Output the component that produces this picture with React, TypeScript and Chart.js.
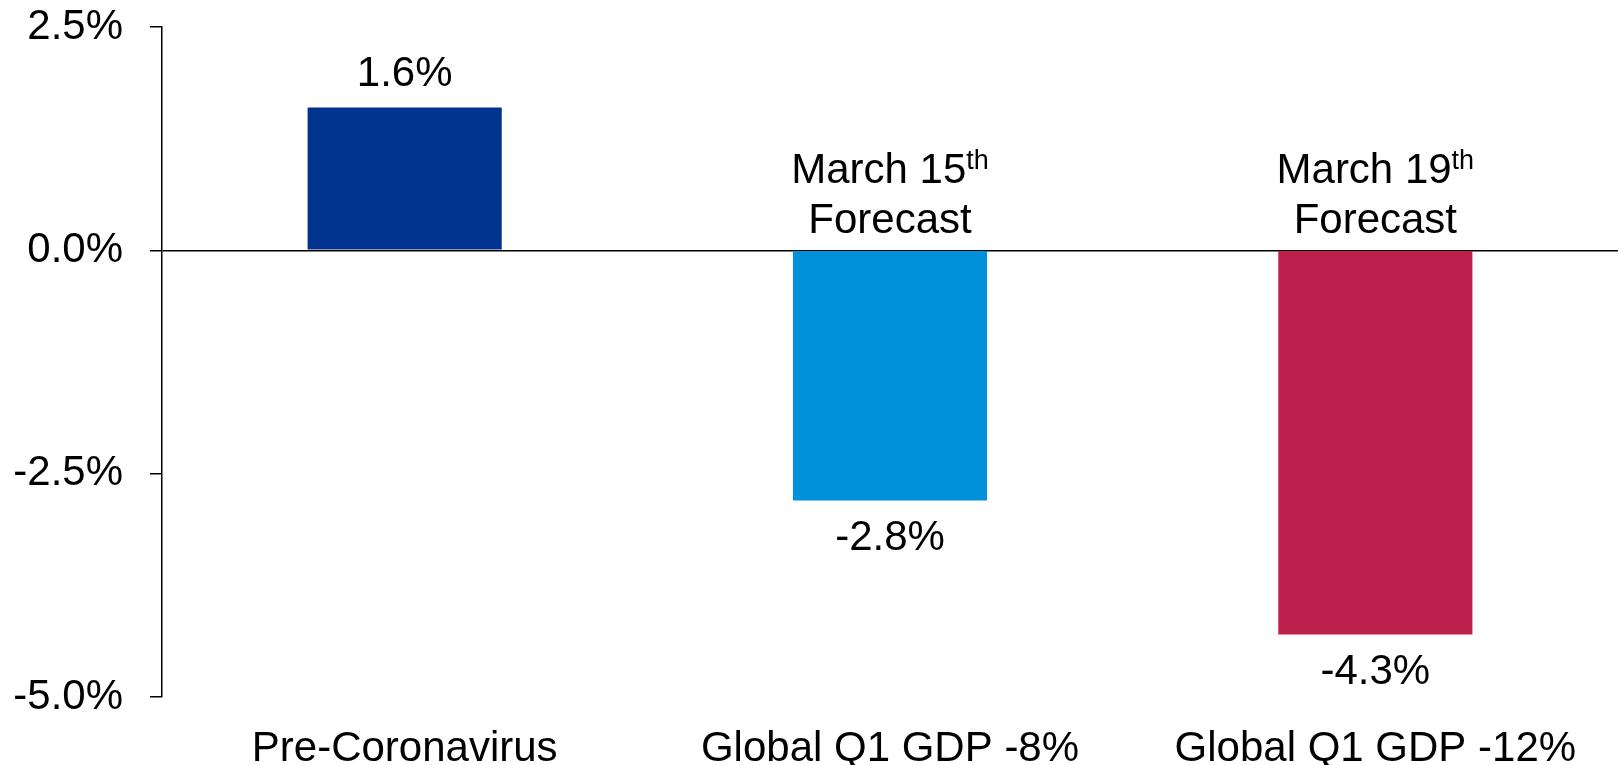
import React, { useEffect, useRef } from "react";
import { Chart, registerables } from "chart.js";

Chart.register(...registerables);

const categories: string[] = ["Pre-Coronavirus", "Global Q1 GDP -8%", "Global Q1 GDP -12%"];
const growthValues: number[] = [1.6, -2.8, -4.3];
const barColors: string[] = ["#00338D", "#0091DA", "#BC204B"];
const forecastDates: string[] = ["", "March 15", "March 19"];
const forecastSuffix: string[] = ["", "th", "th"];
const forecastWord: string[] = ["", "Forecast", "Forecast"];
const yTickValues: number[] = [-5, -2.5, 0, 2.5];

const FONT_FAMILY = "'Liberation Sans', Arial, Helvetica, sans-serif";
const FONT_SIZE = 42;

const labelPlugin = {
  id: "barLabels",
  afterDatasetsDraw(chart: any) {
    const ctx = chart.ctx as CanvasRenderingContext2D;
    const meta = chart.getDatasetMeta(0);
    const yScale = chart.scales.y;
    const zeroY = yScale.getPixelForValue(0);
    ctx.save();
    ctx.fillStyle = "#000000";
    ctx.textBaseline = "alphabetic";
    meta.data.forEach((bar: any, i: number) => {
      const v = growthValues[i];
      const txt = v.toFixed(1) + "%";
      ctx.font = `${FONT_SIZE}px ${FONT_FAMILY}`;
      ctx.textAlign = "center";
      if (v >= 0) {
        ctx.fillText(txt, bar.x, bar.y - 21);
      } else {
        ctx.fillText(txt, bar.x, bar.y + 50);
      }
      if (forecastDates[i]) {
        const main = forecastDates[i];
        const sup = forecastSuffix[i];
        ctx.font = `${FONT_SIZE}px ${FONT_FAMILY}`;
        const wMain = ctx.measureText(main).width;
        ctx.font = `27px ${FONT_FAMILY}`;
        const wSup = ctx.measureText(sup).width;
        const total = wMain + wSup;
        const startX = bar.x - total / 2;
        ctx.textAlign = "left";
        ctx.font = `${FONT_SIZE}px ${FONT_FAMILY}`;
        ctx.fillText(main, startX, zeroY - 67);
        ctx.font = `27px ${FONT_FAMILY}`;
        ctx.fillText(sup, startX + wMain, zeroY - 81);
        ctx.textAlign = "center";
        ctx.font = `${FONT_SIZE}px ${FONT_FAMILY}`;
        ctx.fillText(forecastWord[i], bar.x, zeroY - 17);
      }
    });
    ctx.restore();
  },
};

export default function App() {
  const canvasRef = useRef<HTMLCanvasElement | null>(null);

  useEffect(() => {
    if (!canvasRef.current) return;
    const chart = new Chart(canvasRef.current, {
      type: "bar",
      data: {
        labels: categories,
        datasets: [
          {
            data: growthValues,
            backgroundColor: barColors,
            borderWidth: 0,
            barPercentage: 0.4,
            categoryPercentage: 1,
          },
        ],
      },
      options: {
        responsive: false,
        animation: false,
        layout: { padding: { top: 27, right: 0, left: 0, bottom: 0 } },
        plugins: {
          legend: { display: false },
          tooltip: { enabled: false },
          title: { display: false },
        },
        scales: {
          x: {
            offset: true,
            grid: { display: false, drawTicks: false },
            border: { display: false },
            ticks: {
              color: "#000000",
              padding: 27,
              maxRotation: 0,
              autoSkip: false,
              font: { family: FONT_FAMILY, size: FONT_SIZE, lineHeight: 1.2 },
            },
            afterFit: (scale: any) => {
              scale.height = 68;
              scale.paddingLeft = 0;
              scale.paddingRight = 0;
            },
          },
          y: {
            min: -5,
            max: 2.5,
            afterBuildTicks: (scale: any) => {
              scale.ticks = yTickValues.map((v) => ({ value: v }));
            },
            grid: {
              drawTicks: true,
              tickLength: 12,
              lineWidth: 1.5,
              color: (c: any) => (c.tick && c.tick.value === 0 ? "#000000" : "rgba(0,0,0,0)"),
              tickColor: "#000000",
              tickWidth: 1.5,
            },
            border: { display: true, color: "#000000", width: 1.5 },
            ticks: {
              color: "#000000",
              padding: 27,
              font: { family: FONT_FAMILY, size: FONT_SIZE },
              callback: (v: any) => Number(v).toFixed(1) + "%",
            },
            afterFit: (scale: any) => {
              scale.width = 162;
              scale.paddingTop = 0;
              scale.paddingBottom = 0;
            },
          },
        },
      },
      plugins: [labelPlugin],
    });
    return () => chart.destroy();
  }, []);

  return (
    <div style={{ position: "absolute", left: 0, top: 0, width: 1618, height: 765, background: "#ffffff", overflow: "hidden" }}>
      <canvas ref={canvasRef} width={1618} height={765} style={{ display: "block", width: 1618, height: 765 }} />
    </div>
  );
}
